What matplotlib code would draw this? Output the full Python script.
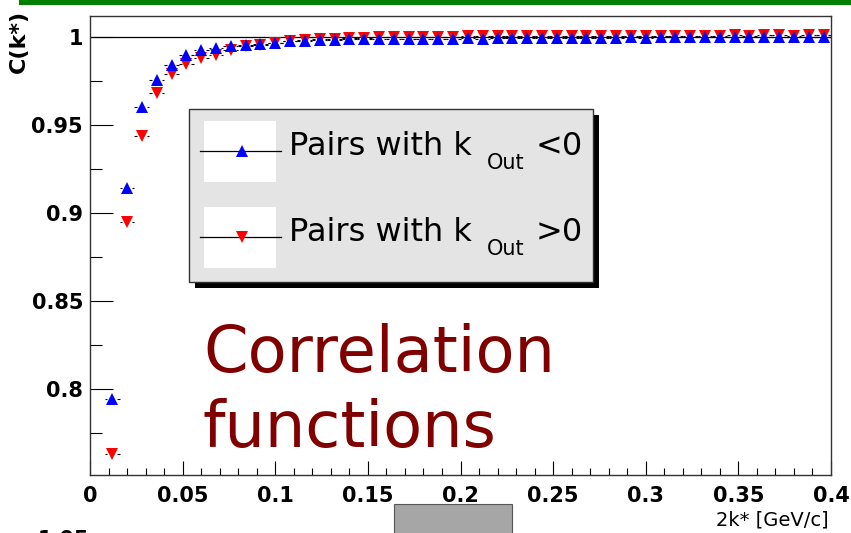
import numpy as np
import matplotlib
matplotlib.use("Agg")
import matplotlib.pyplot as plt
from matplotlib.patches import Rectangle
from matplotlib.ticker import MultipleLocator

# 2k* bin centres (bin width 0.008 GeV/c)
kstar = np.linspace(0.012, 0.396, 49)
bin_half = 0.004

# correlation function, pairs with k_out < 0
c_neg = [0.7940, 0.9139, 0.9600, 0.9757, 0.9841, 0.9894, 0.9922, 0.9936,
         0.9948, 0.9956, 0.9958, 0.9966, 0.9975, 0.9978, 0.9979, 0.9984,
         0.9985, 0.9985, 0.9987, 0.9988, 0.9989, 0.9987, 0.9990, 0.9989,
         0.9991, 0.9990, 0.9992, 0.9991, 0.9993, 0.9992, 0.9994, 0.9993,
         0.9995, 0.9994, 0.9995, 0.9996, 0.9995, 0.9996, 0.9997, 0.9996,
         0.9997, 0.9997, 0.9996, 0.9998, 0.9997, 0.9998, 0.9997, 0.9998,
         0.9998]

# correlation function, pairs with k_out > 0
c_pos = [0.7632, 0.8947, 0.9436, 0.9683, 0.9789, 0.9844, 0.9877, 0.9898,
         0.9925, 0.9945, 0.9955, 0.9966, 0.9978, 0.9982, 0.9986, 0.9990,
         0.9993, 0.9994, 0.9996, 0.9997, 0.9998, 0.9999, 1.0000, 1.0001,
         1.0002, 1.0003, 1.0002, 1.0003, 1.0004, 1.0003, 1.0004, 1.0005,
         1.0004, 1.0005, 1.0006, 1.0005, 1.0006, 1.0006, 1.0007, 1.0006,
         1.0007, 1.0007, 1.0008, 1.0007, 1.0008, 1.0008, 1.0007, 1.0008,
         1.0008]

x_ticks = [0, 0.05, 0.1, 0.15, 0.2, 0.25, 0.3, 0.35, 0.4]
x_ticklabels = ["0", "0.05", "0.1", "0.15", "0.2", "0.25", "0.3", "0.35", "0.4"]
y_ticks = [0.8, 0.85, 0.9, 0.95, 1.0]
y_ticklabels = ["0.8", "0.85", "0.9", "0.95", "1"]

W, H = 851, 533
BLUE = "#0000ff"
RED = "#ff0000"
MS = 8.5

fig = plt.figure(figsize=(W / 100, H / 100), dpi=100)
fig.patch.set_facecolor("white")

ax = fig.add_axes([90 / W, 1 - 475 / H, (831 - 90) / W, (475 - 16) / H])
ax.set_xlim(0, 0.4)
ax.set_ylim(0.751, 1.0118)

ax.axhline(1.0, color="black", lw=0.9, zorder=1)

# x error bars drawn with a gap around the marker
gap = 0.0026
for vals in (c_pos, c_neg):
    ax.hlines(vals, kstar - bin_half, kstar - gap, color="black", lw=0.8, zorder=2)
    ax.hlines(vals, kstar + gap, kstar + bin_half, color="black", lw=0.8, zorder=2)

ax.plot(kstar, c_pos, "v", color=RED, ms=MS, mew=0, zorder=3)
ax.plot(kstar, c_neg, "^", color=BLUE, ms=MS, mew=0, zorder=4)

ax.set_xticks(x_ticks, x_ticklabels, fontweight="bold", fontsize=15)
ax.set_yticks(y_ticks, y_ticklabels, fontweight="bold", fontsize=15)
ax.xaxis.set_minor_locator(MultipleLocator(0.01))
ax.yaxis.set_minor_locator(MultipleLocator(0.025))
ax.tick_params(axis="x", which="major", direction="in", length=10, width=0.8, pad=8)
ax.tick_params(axis="x", which="minor", direction="in", length=5, width=0.8)
ax.tick_params(axis="y", which="major", direction="in", length=16.5, width=0.8, pad=5)
ax.tick_params(axis="y", which="minor", direction="in", length=8.5, width=0.8)
for sp in ax.spines.values():
    sp.set_color("#333333")
    sp.set_linewidth(1.0)

# overlay in pixel units for the legend box and slide decorations
ov = fig.add_axes([0, 0, 1, 1])
ov.set_xlim(0, W)
ov.set_ylim(H, 0)
ov.axis("off")
ov.patch.set_alpha(0)

ov.add_patch(Rectangle((19, 0), W - 19, 5, fc="#008000", ec="none"))
ov.add_patch(Rectangle((394, 504), 118, 32, fc="#a6a6a6", ec="#555555", lw=0.8))
ov.text(38, 530, "1.05", ha="left", va="top", fontsize=15, fontweight="bold")

ov.text(18.5, 10, "C(k*)", rotation=90, ha="center", va="top",
        fontsize=16, fontweight="bold")
ov.text(829, 525, "2k* [GeV/c]", ha="right", va="baseline", fontsize=14)

# legend
ov.add_patch(Rectangle((195, 115), 404, 173, fc="black", ec="none"))
ov.add_patch(Rectangle((189, 109), 404, 173, fc="#e4e4e4", ec="#333333", lw=1.0))
rows = [(151, BLUE, "^", "<0"), (237, RED, "v", ">0")]
for yc, col, mk, rel in rows:
    ov.add_patch(Rectangle((204, yc - 30), 72, 61, fc="white", ec="none"))
    ov.plot([200, 281], [yc, yc], color="black", lw=0.9)
    ov.plot([242], [yc], mk, color=col, ms=MS, mew=0)
    ov.text(289, yc + 4, "Pairs with k", fontsize=23, va="baseline")
    ov.text(487, yc + 18, "Out", fontsize=15, va="baseline")
    ov.text(536, yc + 4, rel, fontsize=23, va="baseline")

ov.text(203, 372, "Correlation", fontsize=46, color="#800000", va="baseline")
ov.text(203, 447, "functions", fontsize=46, color="#800000", va="baseline")

fig.savefig("out.png", dpi=100)
